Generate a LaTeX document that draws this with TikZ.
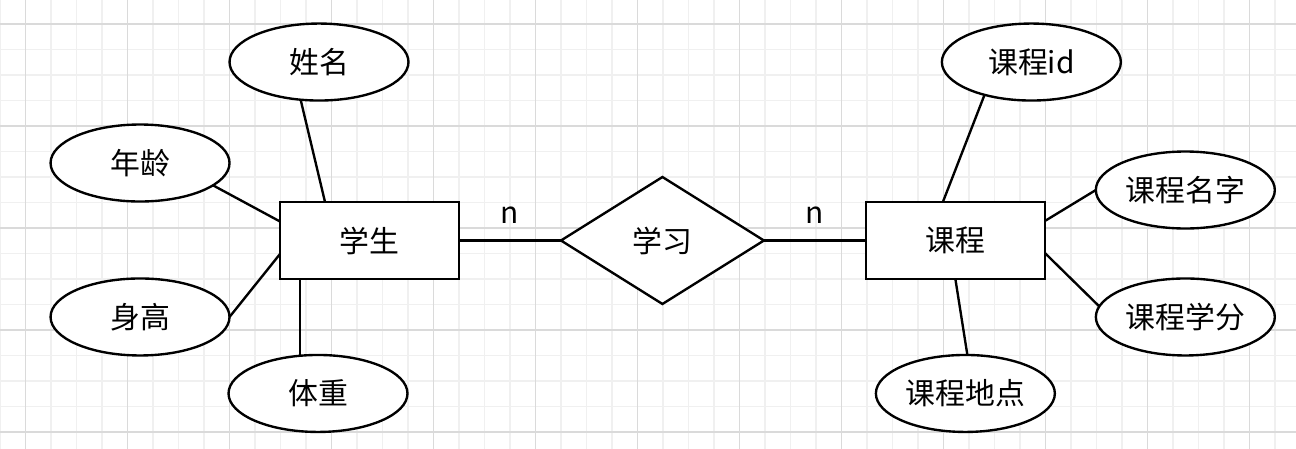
\documentclass[tikz,border=0pt]{standalone}
\usepackage{fontspec}
\setmainfont{Noto Sans CJK SC}
\usetikzlibrary{shapes.geometric, positioning}
\definecolor{gridmajor}{HTML}{DADADA}
\definecolor{gridminor}{HTML}{F0F0F0}

\begin{document}
\begin{tikzpicture}[
        x=0.02cm, y=-0.02cm,
        font=\fontsize{17}{20}\selectfont,
        ent/.style={draw, line width=1.35pt, minimum width=3.58cm, minimum height=1.54cm, inner sep=0pt, outer sep=0pt, fill=white},
        attr/.style={ent, ellipse},
        rel/.style={ent, diamond, minimum width=4.06cm, minimum height=2.54cm},
        link/.style={line width=1.35pt},
        minorgrid/.style={draw=gridminor, line width=0.6pt},
        majorgrid/.style={draw=gridmajor, line width=0.6pt}
    ]
        \useasboundingbox (0,0) rectangle (1296,449);
        \fill[white] (0,0) rectangle (1296,449);

        % grid
        \foreach \i in {0,...,50} \draw[minorgrid] (\i*25.5,0) -- (\i*25.5,449);
        \foreach \j in {0,...,18} \draw[minorgrid] (0,\j*25.5-1.5) -- (1296,\j*25.5-1.5);
        \foreach \i in {0,...,12} \draw[majorgrid] (\i*102+25.5,0) -- (\i*102+25.5,449);
        \foreach \j in {0,...,4} \draw[majorgrid] (0,\j*102+24) -- (1296,\j*102+24);

        \node[ent] (student) at (369.5,240.5) {学生};
        \node[rel, right=2.04cm of student] (study) {学习};
        \node[ent, right=2.04cm of study] (course) {课程};

        \node[attr, above=2.03cm of student, xshift=-1.01cm] (name) {姓名};
        \node[attr, left=1.01cm of student, yshift=1.55cm] (age) {年龄};
        \node[attr, left=1.01cm of student, yshift=-1.53cm] (height) {身高};
        \node[attr, below=1.52cm of student, xshift=-1.03cm] (weight) {体重};

        \node[attr, above=2.03cm of course, xshift=1.52cm] (cid) {课程id};
        \node[attr, right=1.02cm of course, yshift=1.01cm] (cname) {课程名字};
        \node[attr, right=1.02cm of course, yshift=-1.53cm] (credit) {课程学分};
        \node[attr, below=1.52cm of course, xshift=0.2cm] (place) {课程地点};

        \draw[link] (student) -- node[above=0.2cm] {n} (study);
        \draw[link] (study) -- node[above=0.2cm] {n} (course);

        \draw[link] (name.244) -- ([xshift=-0.89cm]student.north);
        \draw[link] (age.343) -- ([yshift=0.38cm]student.west);
        \draw[link] (height.east) -- ([yshift=-0.27cm]student.west);
        \draw[link] ([xshift=-1.39cm]student.south) -- ([xshift=-1.39cm]student.south |- weight.north);

        \draw[link] (cid.215) -- ([xshift=-0.25cm]course.north);
        \draw[link] ([yshift=0.39cm]course.east) -- (cname.west);
        \draw[link] ([yshift=-0.25cm]course.east) -- (credit.173);
        \draw[link] (course.south) -- ([xshift=0.04cm]place.north);
    \end{tikzpicture}
\end{document}
